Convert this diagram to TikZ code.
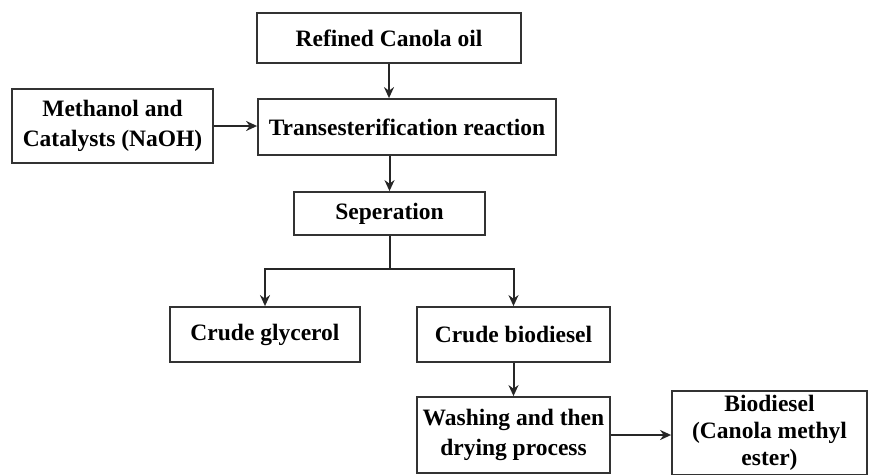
\documentclass[tikz,border=0pt]{standalone}
\usepackage{fontspec}
\setmainfont{Liberation Serif}
\usetikzlibrary{arrows.meta,calc}

\begin{document}
\begin{tikzpicture}[x=1pt, y=-1pt, >={Stealth[length=11pt,width=10pt]},
  stage/.style={draw=black!80, line width=1.8pt, align=center, inner sep=0pt,
    font=\fontsize{23.5}{30}\selectfont\bfseries},
  flow/.style={->, draw=black!85, line width=2pt}]
\useasboundingbox (0,0) rectangle (869,474);
\node[stage, minimum width=264, minimum height=50] (oil) at (389,38) {Refined Canola oil};
\node[stage, minimum width=201, minimum height=74] (meth) at (112.5,126) {Methanol and\\Catalysts (NaOH)};
\node[stage, minimum width=298, minimum height=56] (trans) at (407,127) {Transesterification reaction};
\node[stage, minimum width=191, minimum height=43] (sep) at (389.5,213.5) {Seperation};
\node[stage, minimum width=190, minimum height=55] (glyc) at (265,334.5) {Crude glycerol};
\node[stage, minimum width=193, minimum height=55] (crude) at (513.5,334.5) {Crude biodiesel};
\node[stage, minimum width=193, minimum height=76] (wash) at (513.5,435) {Washing and then\\drying process};
\node[stage, minimum width=195, minimum height=84,
  font=\fontsize{23.5}{27}\selectfont\bfseries] (bio) at (769.5,433) {Biodiesel\\(Canola methyl\\ester)};
% connectors
\draw[flow] (oil.south) -- (oil.south |- trans.north);
\draw[flow] (meth.east) -- (meth.east -| trans.west);
\draw[flow] (sep.north |- trans.south) -- (sep.north);
\coordinate (split) at ($(sep.south)+(0,33)$);
\draw[draw=black!85, line width=2pt] (sep.south) -- (split);
\draw[flow] (split) -| (glyc.north);
\draw[flow] (split) -| (crude.north);
\draw[flow] (crude.south) -- (wash.north);
\draw[flow] (wash.east) -- (wash.east -| bio.west);
\end{tikzpicture}
\end{document}
